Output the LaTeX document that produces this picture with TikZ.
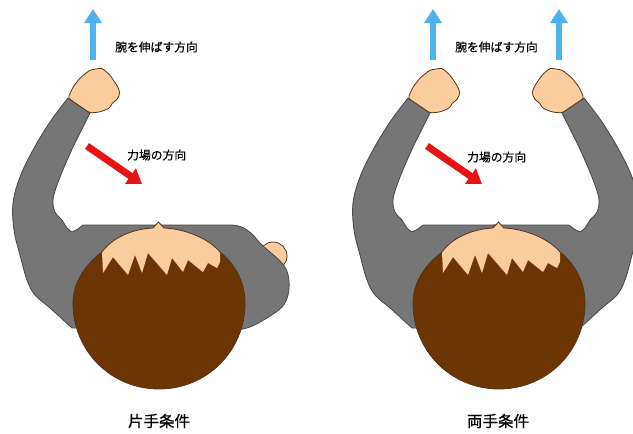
\documentclass[tikz,border=0pt]{standalone}
\usepackage{fontspec}
\newfontfamily\jp[FakeBold=0.6]{Noto Sans CJK JP}
\usetikzlibrary{arrows.meta}

\definecolor{sleeve}{RGB}{118,118,118}
\definecolor{sleeveline}{RGB}{70,70,70}
\definecolor{skin}{RGB}{250,204,158}
\definecolor{hair}{RGB}{108,54,4}
\definecolor{brownline}{RGB}{84,52,22}
\definecolor{pushblue}{RGB}{79,178,238}
\definecolor{forcered}{RGB}{232,20,20}

\tikzset{
  sleevefill/.style={fill=sleeve, draw=sleeveline, line width=0.8pt, line join=round},
  skinfill/.style={fill=skin, draw=brownline, line width=0.8pt, line join=round},
  pusharrow/.style={draw=pushblue, line width=6pt, -{Triangle[width=17pt,length=14pt]}},
  forcearrow/.style={draw=forcered, line width=7pt, -{Triangle[width=18pt,length=14pt]}},
  notetext/.style={font=\jp\fontsize{11.8}{12}\selectfont, inner sep=0pt, anchor=west},
  captiontext/.style={font=\jp\fontsize{15.5}{16}\selectfont, inner sep=0pt},
}

% left arm with the left half of the torso, and its fist
\newcommand\DrawArm{%
  \path[sleevefill] plot[smooth, tension=0.6] coordinates {(68,98) (50,122) (33,150) (20,177) (13,203) (14,230) (20,255) (27,280) (35,295) (50,308) (72,328)}
    -- (159,330) -- (159,225) -- (83,225) -- (78,229)
    -- plot[smooth, tension=0.6] coordinates {(72,232) (67,228) (62,220) (55,212) (53,200) (57,185) (65,165) (74,145) (83,127) (90,113)}
    -- cycle;
  \path[skinfill, rounded corners=2.5pt] (90,70) -- (102,68) -- (110,75) -- (118,87) -- (120,93) -- (117,100)
    -- (112,103) -- (110,108) -- (100,112) -- (90,113) -- (68,98) -- (73,87) -- (80,78) -- cycle;
}

% outline of the head seen from above
\newcommand\HeadPath{(73,303) .. controls (73,351) and (111,389) .. (159,389)
  .. controls (207,389) and (245,351) .. (245,303)
  .. controls (245,282) and (235,264) .. (220,252)
  .. controls (208,238) and (185,229) .. (164,228) -- (158.5,222) -- (153,228)
  .. controls (132,229) and (112,238) .. (102,252)
  .. controls (86,264) and (73,282) .. (73,303) -- cycle}

\newcommand\DrawHead{%
  \fill[hair] \HeadPath;
  \fill[skin] (102,252) .. controls (112,238) and (132,229) .. (153,228) -- (158.5,222) -- (164,228)
    .. controls (185,229) and (208,238) .. (220,252) -- (220,262) -- (217,268) -- (208,263) -- (203,272)
    -- (188,260) -- (183,272) -- (172,258) -- (167,275) -- (148,253) -- (142,273) -- (135,255)
    -- (128,275) -- (113,257) -- (103,273) -- cycle;
  \draw[brownline, line width=0.8pt] \HeadPath;
}

\begin{document}
\begin{tikzpicture}[x=1pt, y=-1pt]
\useasboundingbox (0,0) rectangle (633,434);
\fill[white] (0,0) rectangle (633,434);

% ---------- one hand ----------
\DrawArm
\path[skinfill] (273,256) circle[radius=14pt];
\path[sleevefill] (159,225) -- (230,225) .. controls (242,225) and (248,230) .. (254,236)
  -- plot[smooth, tension=0.6] coordinates {(254,236) (263,246) (278,259) (286,269) (289,281) (288,295) (282,307) (267,318) (250,327) (237,330)}
  -- (159,330) -- cycle;
\DrawHead

\coordinate (reachtailA) at (93,60);
\coordinate (reachtipA) at (93,9);
\draw[pusharrow] (reachtailA) -- (reachtipA);
\node[notetext] (reachA) at (115,47) {腕を伸ばす方向};

\coordinate (forcetailA) at (87,146);
\coordinate (forcetipA) at (142,184);
\draw[forcearrow] (forcetailA) -- (forcetipA);
\node[notetext] (forceA) at (127,155) {力場の方向};

\node[captiontext] (captionA) at (159,421) {片手条件};

% ---------- both hands ----------
\begin{scope}[shift={(340,0)}]
  \DrawArm
\end{scope}
\begin{scope}[shift={(652,0)}, xscale=-1]
  \DrawArm
\end{scope}
\begin{scope}[shift={(340,0)}]
  \DrawHead
\end{scope}

\coordinate (reachtailB) at (433,60);
\coordinate (reachtipB) at (433,9);
\draw[pusharrow] (reachtailB) -- (reachtipB);
\coordinate (reachtailC) at (559,60);
\coordinate (reachtipC) at (559,9);
\draw[pusharrow] (reachtailC) -- (reachtipC);
\node[notetext] (reachB) at (455,47) {腕を伸ばす方向};

\coordinate (forcetailB) at (427,146);
\coordinate (forcetipB) at (482,184);
\draw[forcearrow] (forcetailB) -- (forcetipB);
\node[notetext] (forceB) at (467,157) {力場の方向};

\node[captiontext] (captionB) at (498,421) {両手条件};
\end{tikzpicture}
\end{document}
